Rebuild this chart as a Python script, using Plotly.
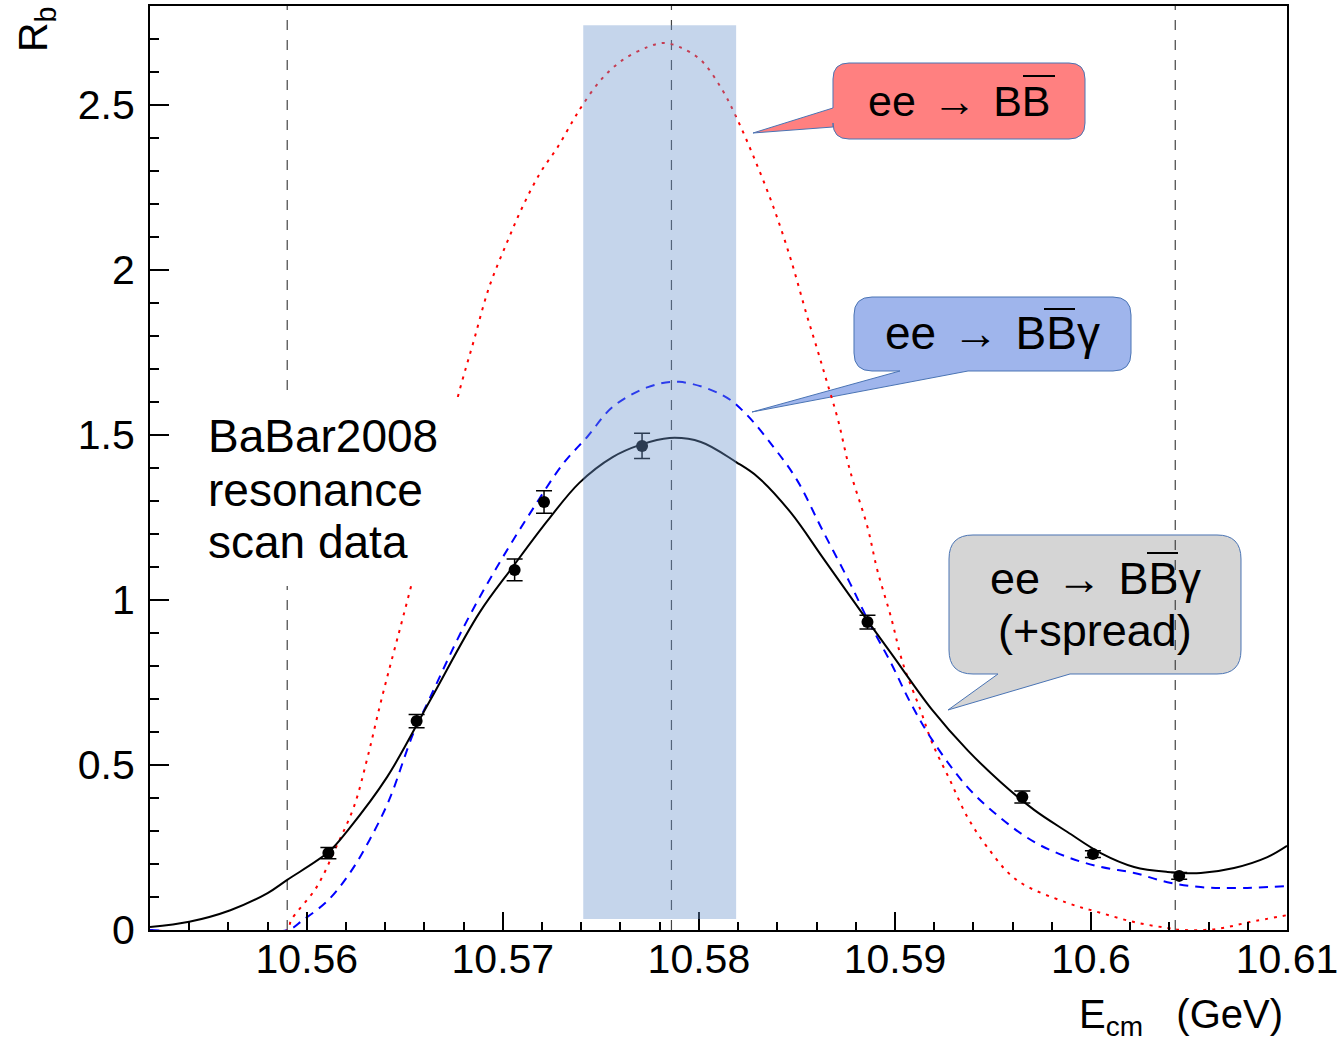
import plotly.graph_objects as go

# ---------------- data ----------------
curve_x_black = [10.5520, 10.5540, 10.5561, 10.5580, 10.5590, 10.5611, 10.5621, 10.5641, 10.5663,
                 10.5688, 10.5705, 10.5723, 10.5739, 10.5756, 10.5770, 10.5785, 10.5801, 10.5819,
                 10.5830, 10.5847, 10.5863, 10.5881, 10.5898, 10.5919, 10.5937, 10.5954, 10.5971,
                 10.5988, 10.6005, 10.6022, 10.6039, 10.6056, 10.6073, 10.6090, 10.6100]
curve_y_black = [0.009, 0.025, 0.060, 0.112, 0.152, 0.236, 0.303, 0.464, 0.697,
                 0.961, 1.100, 1.242, 1.355, 1.433, 1.470, 1.491, 1.479, 1.418,
                 1.373, 1.264, 1.130, 0.979, 0.839, 0.667, 0.545, 0.448, 0.364,
                 0.297, 0.233, 0.191, 0.176, 0.173, 0.188, 0.221, 0.255]

curve_x_blue = [10.5520, 10.5590, 10.5598, 10.5611, 10.5622, 10.5632, 10.5642, 10.5654, 10.5663,
                10.5680, 10.5697, 10.5714, 10.5731, 10.5743, 10.5756, 10.5774, 10.5790, 10.5812,
                10.5823, 10.5838, 10.5850, 10.5863, 10.5877, 10.5887, 10.5898, 10.5908, 10.5919,
                10.5937, 10.5954, 10.5971, 10.5988, 10.6005, 10.6022, 10.6039, 10.6056, 10.6073,
                10.6100]
curve_y_blue = [0.0, 0.0, 0.030, 0.091, 0.173, 0.273, 0.394, 0.591, 0.706,
                0.918, 1.100, 1.264, 1.415, 1.494, 1.585, 1.645, 1.661, 1.621,
                1.570, 1.464, 1.364, 1.212, 1.052, 0.930, 0.809, 0.688, 0.576,
                0.433, 0.339, 0.267, 0.221, 0.191, 0.173, 0.145, 0.130, 0.127,
                0.133]

curve_x_red = [10.5520, 10.5590, 10.5592, 10.5605, 10.5615, 10.5624, 10.5631, 10.5638, 10.5654,
               10.5677, 10.5685, 10.5693, 10.5702, 10.5710, 10.5719, 10.5728, 10.5736, 10.5741,
               10.5750, 10.5761, 10.5774, 10.5782, 10.5790, 10.5801, 10.5812, 10.5819, 10.5828,
               10.5838, 10.5847, 10.5855, 10.5860, 10.5865, 10.5871, 10.5877, 10.5886, 10.5891,
               10.5898, 10.5904, 10.5913, 10.5919, 10.5928, 10.5937, 10.5947, 10.5962, 10.5988,
               10.6005, 10.6022, 10.6039, 10.6047, 10.6064, 10.6081, 10.6100]
curve_y_red = [0.0, 0.0, 0.030, 0.130, 0.252, 0.373, 0.524, 0.697, 1.061,
               1.615, 1.782, 1.948, 2.082, 2.191, 2.294, 2.373, 2.455, 2.503,
               2.576, 2.636, 2.676, 2.688, 2.676, 2.636, 2.545, 2.464, 2.342,
               2.191, 2.030, 1.864, 1.767, 1.667, 1.545, 1.394, 1.221, 1.091,
               0.948, 0.809, 0.667, 0.567, 0.455, 0.342, 0.252, 0.152, 0.082,
               0.052, 0.024, 0.006, 0.000, 0.003, 0.024, 0.045]

data_x = [10.5611, 10.5656, 10.5706, 10.5721, 10.5771, 10.5886, 10.5965, 10.6001, 10.6045]
data_y = [0.233, 0.633, 1.091, 1.297, 1.467, 0.933, 0.403, 0.230, 0.164]
data_err = [0.017, 0.020, 0.033, 0.034, 0.038, 0.021, 0.018, 0.010, 0.010]

vlines_x = [10.5590, 10.5786, 10.6043]
band_x = [10.5741, 10.5819]
band_y = [0.033, 2.742]

x_tickvals = [10.56, 10.57, 10.58, 10.59, 10.60, 10.61]
x_ticktext = ["10.56", "10.57", "10.58", "10.59", "10.6", "10.61"]
y_tickvals = [0, 0.5, 1, 1.5, 2, 2.5]
y_ticktext = ["0", "0.5", "1", "1.5", "2", "2.5"]
X_RANGE = [10.552, 10.6100001]
Y_RANGE = [0, 2.8]

FONT = "Liberation Sans, Arial, sans-serif"

# ---------------- figure ----------------
fig = go.Figure()

for v in vlines_x:
    fig.add_trace(go.Scatter(x=[v, v], y=Y_RANGE, mode="lines",
                             line=dict(color="#444444", width=1.2, dash="10px,10px"),
                             showlegend=False, hoverinfo="skip"))

fig.add_trace(go.Scatter(x=curve_x_red, y=curve_y_red, mode="lines",
                         line=dict(color="#ff0000", width=2, dash="3px,6px", shape="spline", smoothing=1.0),
                         showlegend=False))
fig.add_trace(go.Scatter(x=curve_x_blue, y=curve_y_blue, mode="lines",
                         line=dict(color="#0000ff", width=2, dash="9px,7px", shape="spline", smoothing=1.0),
                         showlegend=False))
fig.add_trace(go.Scatter(x=curve_x_black, y=curve_y_black, mode="lines",
                         line=dict(color="#000000", width=2, shape="spline", smoothing=1.0),
                         showlegend=False))
fig.add_trace(go.Scatter(x=data_x, y=data_y, mode="markers",
                         marker=dict(color="black", size=12),
                         error_y=dict(type="data", array=data_err, color="black", thickness=1.5, width=8),
                         showlegend=False))

# ---------------- pixel helpers for overlay drawings ----------------
L, R, T, B = 150, 1287, 6, 930


def px(x):
    return (x - L) / (R - L)


def py(y):
    return (B - y) / (B - T)


def P(x, y):
    return f"{px(x):.5f},{py(y):.5f}"


def bubble_left(x0, y0, x1, y1, r, a, b, tip):
    return (f"M {P(x0 + r, y0)} L {P(x1 - r, y0)} Q {P(x1, y0)} {P(x1, y0 + r)} "
            f"L {P(x1, y1 - r)} Q {P(x1, y1)} {P(x1 - r, y1)} L {P(x0 + r, y1)} "
            f"Q {P(x0, y1)} {P(x0, y1 - r)} L {P(x0, b)} L {P(*tip)} L {P(x0, a)} "
            f"L {P(x0, y0 + r)} Q {P(x0, y0)} {P(x0 + r, y0)} Z")


def bubble_bottom(x0, y0, x1, y1, r, a, b, tip):
    return (f"M {P(x0 + r, y0)} L {P(x1 - r, y0)} Q {P(x1, y0)} {P(x1, y0 + r)} "
            f"L {P(x1, y1 - r)} Q {P(x1, y1)} {P(x1 - r, y1)} L {P(b, y1)} L {P(*tip)} "
            f"L {P(a, y1)} L {P(x0 + r, y1)} Q {P(x0, y1)} {P(x0, y1 - r)} "
            f"L {P(x0, y0 + r)} Q {P(x0, y0)} {P(x0 + r, y0)} Z")


shapes = []
border = dict(color="#4a74b4", width=1)
shapes.append(dict(type="path", xref="paper", yref="paper", layer="below",
                   path=bubble_left(833, 63, 1085, 139, 16, 108, 127, (753, 133)),
                   fillcolor="#ff8080", line=border))
shapes.append(dict(type="path", xref="paper", yref="paper", layer="below",
                   path=bubble_bottom(854, 297, 1131, 371, 18, 900, 968, (752, 412)),
                   fillcolor="#9fb5ec", line=border))
shapes.append(dict(type="path", xref="paper", yref="paper", layer="below",
                   path=bubble_bottom(949, 535, 1241, 674, 24, 998, 1070, (948, 710)),
                   fillcolor="#d5d5d5", line=border))

# shaded band (semi-transparent, above curves)
shapes.append(dict(type="rect", xref="x", yref="y", layer="above",
                   x0=band_x[0], x1=band_x[1], y0=band_y[0], y1=band_y[1],
                   fillcolor="rgba(110,150,205,0.40)", line=dict(width=0)))
# white box behind BaBar label
shapes.append(dict(type="rect", xref="paper", yref="paper", layer="above",
                   x0=px(196), x1=px(462), y0=py(586), y1=py(397),
                   fillcolor="white", line=dict(width=0)))
# overlines on anti-B
for (xa, xb, yy) in [(1023, 1055, 76), (1044, 1075, 309), (1147, 1178, 553)]:
    shapes.append(dict(type="line", xref="paper", yref="paper", layer="above",
                       x0=px(xa), x1=px(xb), y0=py(yy), y1=py(yy),
                       line=dict(color="black", width=2)))

NB = "\u00a0"
GAP = f"<span style='font-size:30px'>{NB}{NB}</span>"


def arrow(sz):
    return f"<span style='font-size:{sz}px'>→</span>"


def note(text, x, y, size, xanchor="center"):
    return dict(text=text, x=px(x), y=py(y), xref="paper", yref="paper",
                xanchor=xanchor, yanchor="middle", showarrow=False,
                font=dict(family=FONT, size=size, color="black"))


annotations = [
    note(f"ee{GAP}{arrow(44)}{GAP}BB", 959, 101, 43),
    note(f"ee{GAP}{arrow(46)}{GAP}BBγ", 992, 333, 46),
    note(f"ee{GAP}{arrow(45)}{GAP}BBγ", 1095, 578, 45),
    note("(+spread)", 1095, 630, 45),
    note("BaBar2008", 206, 436, 46, "left"),
    note("resonance", 206, 490, 46, "left"),
    note("scan data", 206, 542, 46, "left"),
    dict(text=f"E<sub>cm</sub>{NB}{NB}{NB}(GeV)", x=px(1285), y=py(1044), xref="paper", yref="paper",
         xanchor="right", yanchor="bottom", showarrow=False,
         font=dict(family=FONT, size=40, color="black")),
    dict(text="R<sub>b</sub>", x=px(36), y=py(4), xref="paper", yref="paper",
         xanchor="center", yanchor="top", textangle=-90, showarrow=False,
         font=dict(family=FONT, size=41, color="black")),
]

axis_common = dict(showgrid=False, zeroline=False, showline=True, linewidth=2, linecolor="black",
                   mirror=True, ticks="inside", tickwidth=1.5, tickcolor="black",
                   ticklabeloverflow="allow", automargin=False,
                   tickfont=dict(family=FONT, size=41, color="black"))

fig.update_layout(
    width=1338, height=1044, autosize=False,
    margin=dict(l=L, r=1338 - R, t=T, b=1044 - B),
    plot_bgcolor="white", paper_bgcolor="white",
    xaxis=dict(range=X_RANGE, tickvals=x_tickvals, ticktext=x_ticktext, ticklen=18,
               ticklabelstandoff=-8,
               minor=dict(ticks="inside", ticklen=8, dtick=0.002, tick0=10.56, tickwidth=1.5,
                          tickcolor="black", showgrid=False),
               **axis_common),
    yaxis=dict(range=Y_RANGE, tickvals=y_tickvals, ticktext=y_ticktext, ticklen=19,
               ticklabelstandoff=5,
               minor=dict(ticks="inside", ticklen=9, dtick=0.1, tick0=0, tickwidth=1.5,
                          tickcolor="black", showgrid=False),
               **axis_common),
    shapes=shapes,
    annotations=annotations,
    showlegend=False,
)

fig.write_html("out.html")
